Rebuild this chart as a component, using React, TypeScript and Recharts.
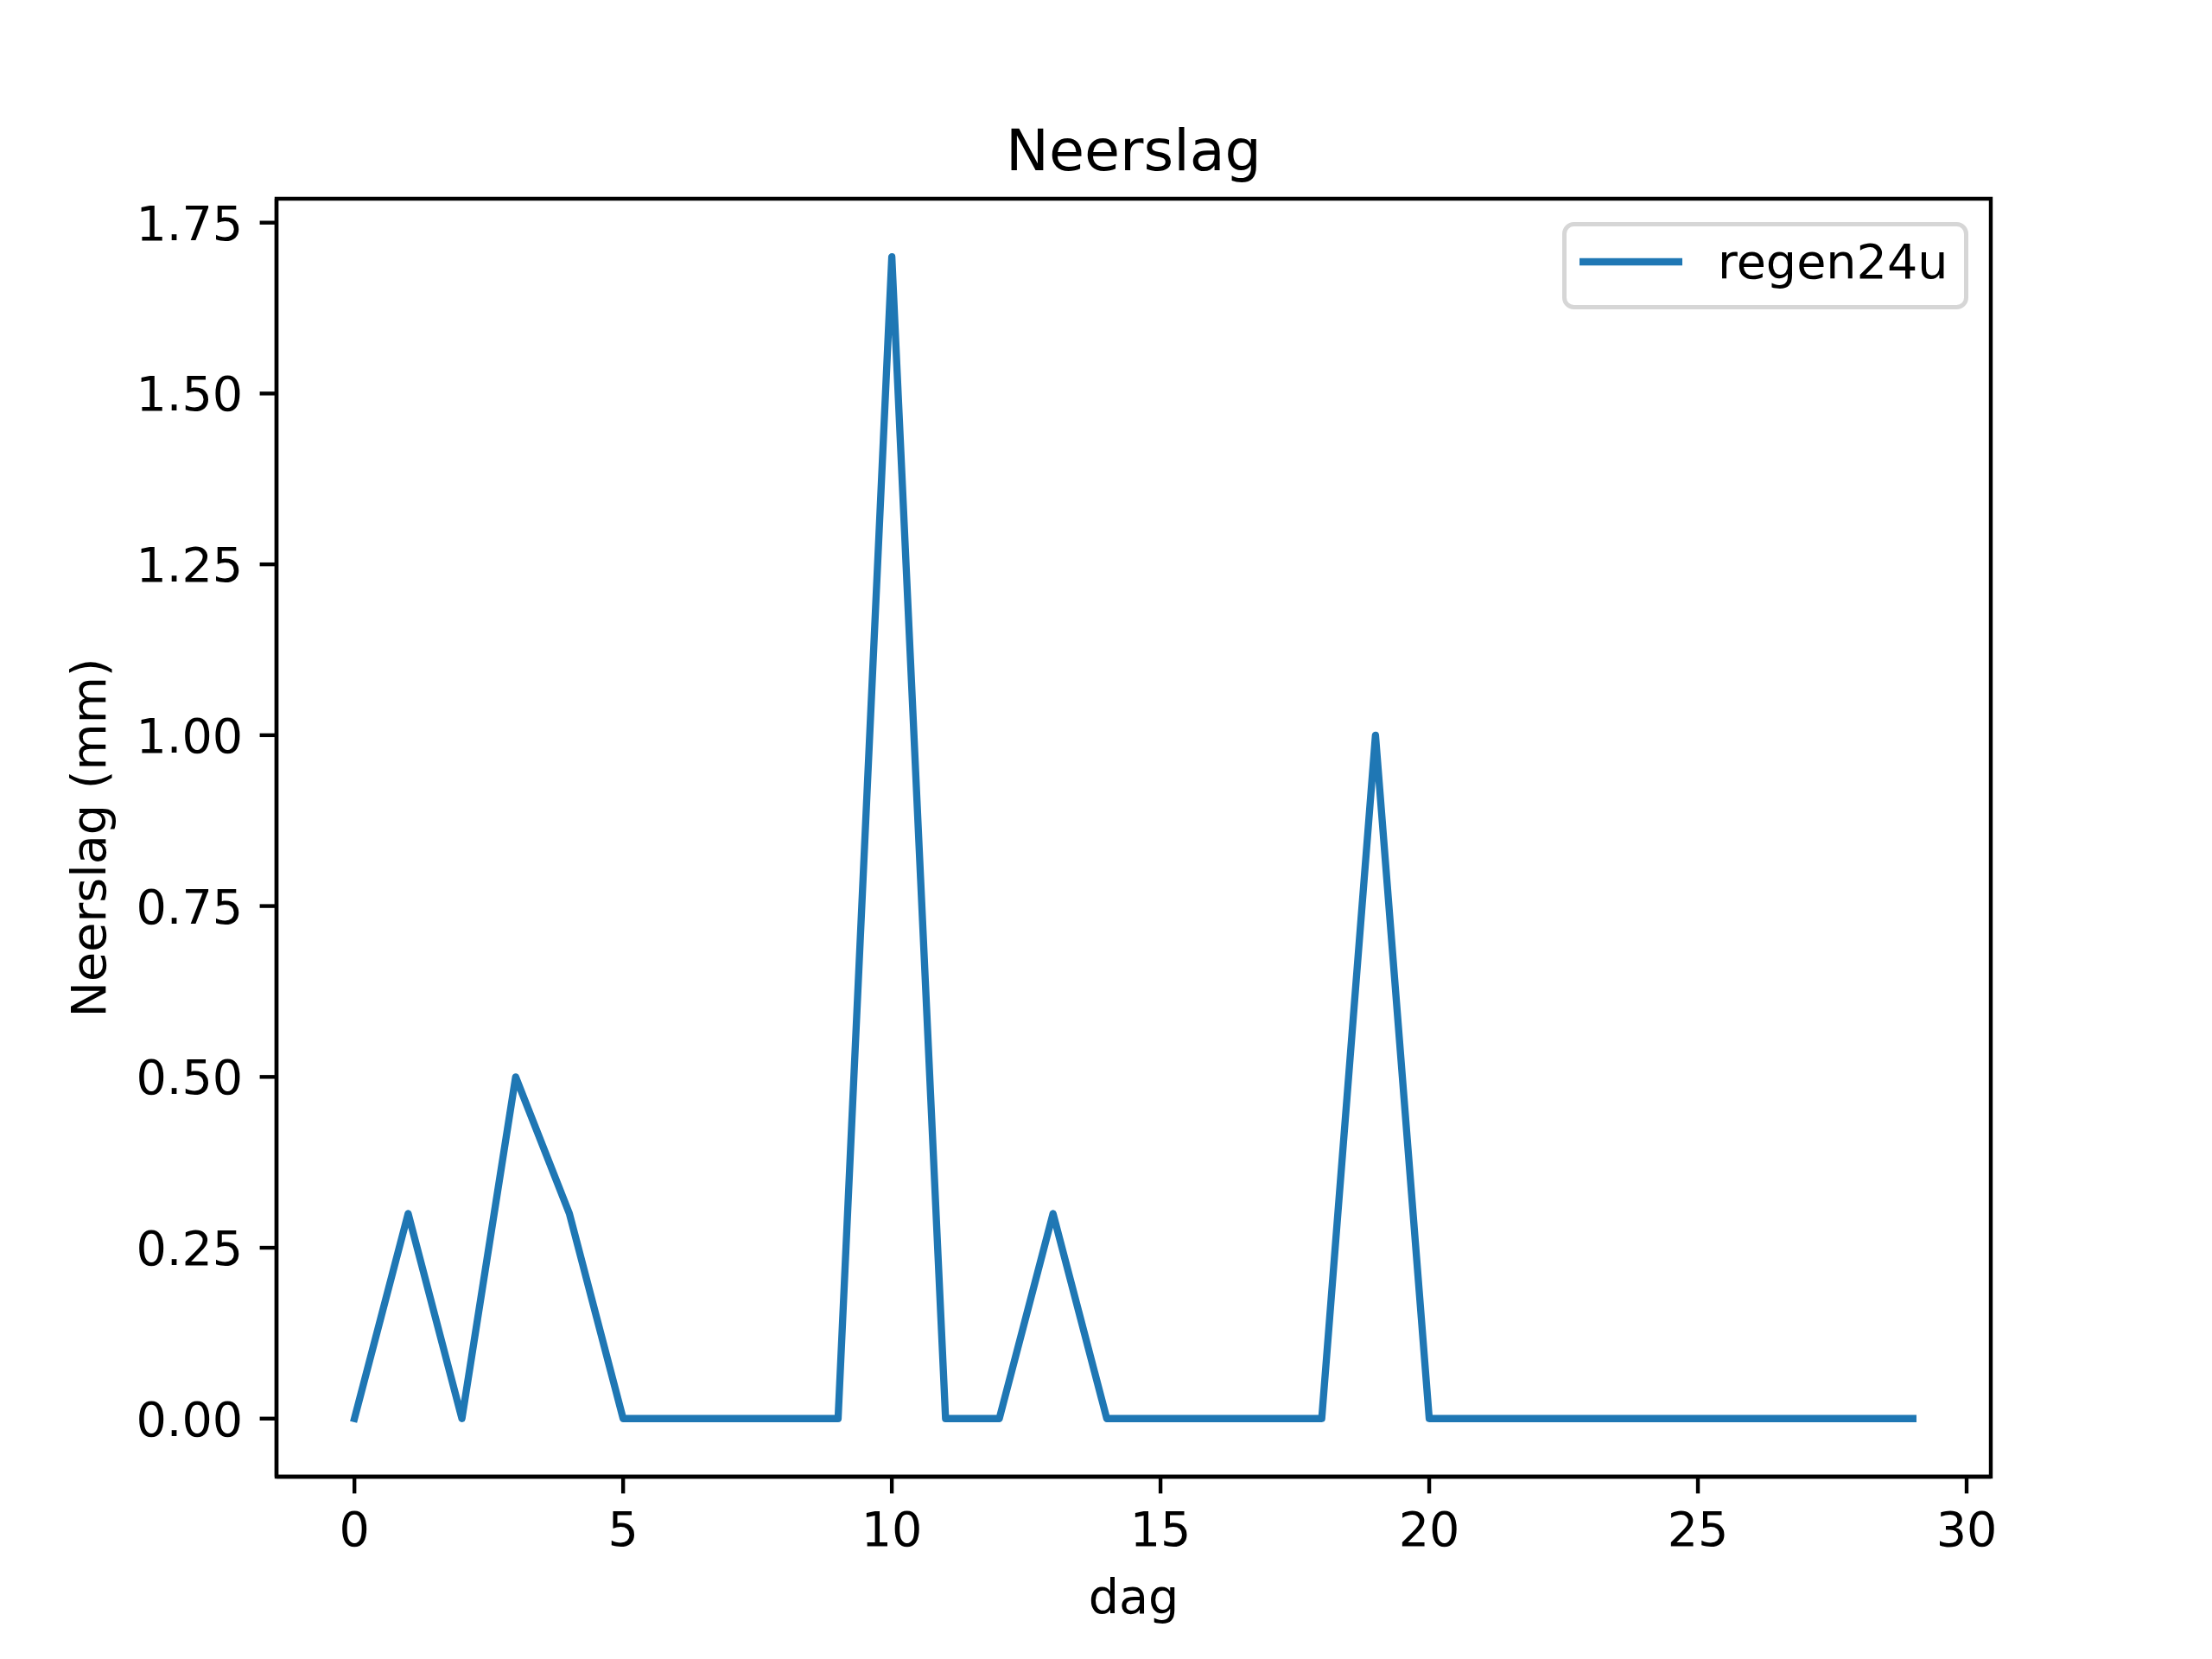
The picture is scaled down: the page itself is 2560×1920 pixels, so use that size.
import React from "react";
import {
  LineChart,
  Line,
  XAxis,
  YAxis,
  Legend,
  Label,
  ReferenceArea,
  Customized,
} from "recharts";

// dag 0..29
const days = [
  0, 1, 2, 3, 4, 5, 6, 7, 8, 9, 10, 11, 12, 13, 14, 15, 16, 17, 18, 19, 20,
  21, 22, 23, 24, 25, 26, 27, 28, 29,
];
const regen24u = [
  0, 0.3, 0, 0.5, 0.3, 0, 0, 0, 0, 0, 1.7, 0, 0, 0.3, 0, 0, 0, 0, 0, 1.0, 0,
  0, 0, 0, 0, 0, 0, 0, 0, 0,
];
const xTicks = [0, 5, 10, 15, 20, 25, 30];
const yTicks = [0, 0.25, 0.5, 0.75, 1.0, 1.25, 1.5, 1.75];

const X_DOMAIN: [number, number] = [-1.45, 30.45];
const Y_DOMAIN: [number, number] = [-0.085, 1.785];

const FONT = "DejaVu Sans";
const FS = 55.6; // 10pt @ 400dpi
const BLUE = "#1f77b4";

const data = days.map((d, i) => ({ dag: d, regen24u: regen24u[i] }));

const XTick = (props: any) => {
  const { x, y, payload } = props;
  return (
    <text x={x} y={y + 41} textAnchor="middle" fontFamily={FONT} fontSize={FS} fill="#000">
      {payload.value}
    </text>
  );
};

const YTick = (props: any) => {
  const { x, y, payload } = props;
  return (
    <text x={x} y={y + 20} textAnchor="end" fontFamily={FONT} fontSize={FS} fill="#000">
      {Number(payload.value).toFixed(2)}
    </text>
  );
};

const LegendBox = (props: any) => {
  const item = (props.payload && props.payload[0]) || { value: "regen24u", color: BLUE };
  return (
    <svg width={470} height={101} style={{ display: "block" }}>
      <rect
        x={2.5}
        y={2.5}
        width={465}
        height={96}
        rx={11}
        fill="#ffffff"
        fillOpacity={0.8}
        stroke="#cccccc"
        strokeOpacity={0.8}
        strokeWidth={5}
      />
      <line x1={20} y1={46} x2={139} y2={46} stroke={item.color} strokeWidth={8.33} />
      <text x={180} y={65} fontFamily={FONT} fontSize={FS} fill="#000">
        {item.value}
      </text>
    </svg>
  );
};

const Title = () => (
  <text x={1312} y={197} textAnchor="middle" fontFamily={FONT} fontSize={66.7} fill="#000">
    Neerslag
  </text>
);

export default function App() {
  return (
    <div style={{ width: 2560, height: 1920, background: "#fff" }}>
      <style>{`body{margin:0;background:#fff}`}</style>
      <LineChart
        width={2560}
        height={1920}
        data={data}
        margin={{ top: 230, right: 256, bottom: 0, left: 0 }}
      >
        <XAxis
          dataKey="dag"
          type="number"
          domain={X_DOMAIN}
          ticks={xTicks}
          allowDataOverflow
          height={211}
          tickSize={19.4}
          tickMargin={19.4}
          tick={<XTick />}
          tickLine={{ stroke: "#000", strokeWidth: 4.4 }}
          axisLine={{ stroke: "#000", strokeWidth: 4.4 }}
        >
          <Label
            content={(p: any) => (
              <text
                x={p.viewBox.x + p.viewBox.width / 2}
                y={1867}
                textAnchor="middle"
                fontFamily={FONT}
                fontSize={FS}
                fill="#000"
              >
                dag
              </text>
            )}
          />
        </XAxis>
        <YAxis
          type="number"
          domain={Y_DOMAIN}
          ticks={yTicks}
          allowDataOverflow
          width={320}
          tickSize={19.4}
          tickMargin={19.4}
          tick={<YTick />}
          tickLine={{ stroke: "#000", strokeWidth: 4.4 }}
          axisLine={{ stroke: "#000", strokeWidth: 4.4 }}
        >
          <Label
            content={(p: any) => {
              const cy = p.viewBox.y + p.viewBox.height / 2;
              return (
                <text
                  x={122}
                  y={cy}
                  transform={`rotate(-90 122 ${cy})`}
                  textAnchor="middle"
                  fontFamily={FONT}
                  fontSize={FS}
                  fill="#000"
                >
                  Neerslag (mm)
                </text>
              );
            }}
          />
        </YAxis>
        <ReferenceArea
          x1={X_DOMAIN[0]}
          x2={X_DOMAIN[1]}
          y1={Y_DOMAIN[0]}
          y2={Y_DOMAIN[1]}
          fill="none"
          stroke="#000"
          strokeWidth={4.4}
          ifOverflow="visible"
        />
        <Line
          type="linear"
          dataKey="regen24u"
          name="regen24u"
          stroke={BLUE}
          strokeWidth={8.33}
          strokeLinejoin="round"
          strokeLinecap="square"
          dot={false}
          activeDot={false}
          isAnimationActive={false}
        />
        <Legend
          layout="horizontal"
          verticalAlign="middle"
          align="center"
          content={<LegendBox />}
          wrapperStyle={{ position: "absolute", left: 1808, top: 257, width: 470, height: 101 }}
        />
        <Customized component={Title} />
      </LineChart>
    </div>
  );
}
